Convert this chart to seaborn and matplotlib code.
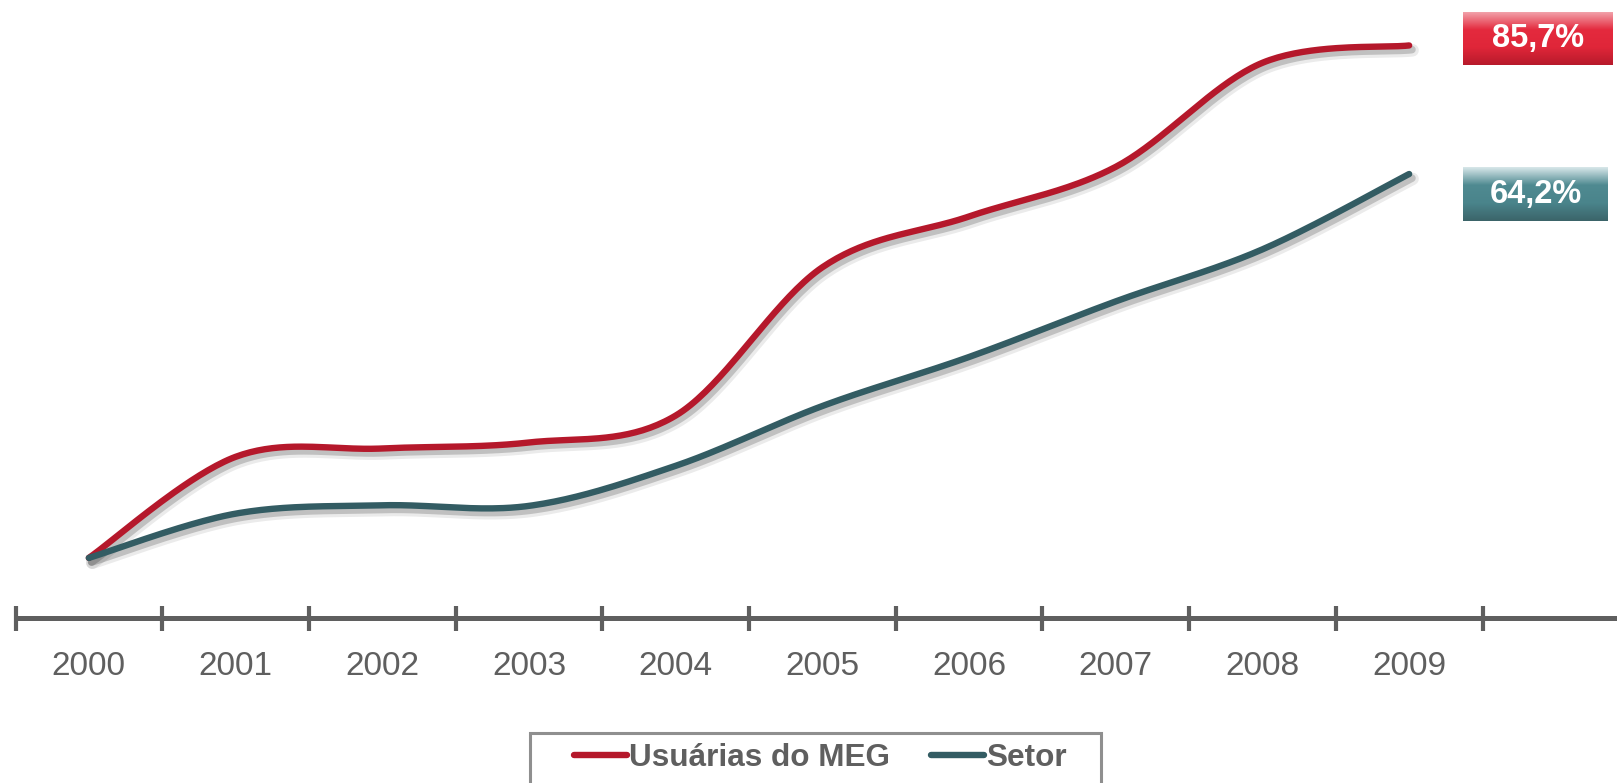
import numpy as np
import pandas as pd
import seaborn as sns
import matplotlib.pyplot as plt
import matplotlib.patheffects as pe
from matplotlib.colors import LinearSegmentedColormap
from matplotlib.patches import Rectangle

# Data (accumulated growth, %)
anos = ['2000', '2001', '2002', '2003', '2004', '2005', '2006', '2007', '2008', '2009']
meg = [0.0, 16.9, 18.3, 19.3, 23.8, 48.6, 57.1, 65.4, 82.8, 85.7]
setor = [0.0, 7.4, 8.8, 8.7, 15.4, 25.4, 33.6, 42.9, 51.6, 64.2]

cor_meg = '#b5182b'
cor_setor = '#335c63'
cinza = '#5f5f5f'


def suaviza(y, n=40):
    # Catmull-Rom through the yearly points (like Excel's smoothed line)
    y = np.asarray(y, dtype=float)
    x = np.arange(len(y), dtype=float)
    px = np.concatenate([[x[0]], x, [x[-1]]])
    py = np.concatenate([[y[0]], y, [y[-1]]])
    xs, ys = [], []
    t = np.linspace(0, 1, n, endpoint=False)
    f = lambda a0, a1, a2, a3: 0.5 * ((2 * a1) + (-a0 + a2) * t
                                      + (2 * a0 - 5 * a1 + 4 * a2 - a3) * t ** 2
                                      + (-a0 + 3 * a1 - 3 * a2 + a3) * t ** 3)
    for i in range(1, len(px) - 2):
        xs.append(f(*px[i - 1:i + 3]))
        ys.append(f(*py[i - 1:i + 3]))
    xs.append([x[-1]])
    ys.append([y[-1]])
    return np.concatenate(xs), np.concatenate(ys)


plt.rcParams['font.family'] = ['Liberation Sans', 'DejaVu Sans']

fig = plt.figure(figsize=(16.17, 7.83), dpi=100)
ax = fig.add_axes([15.5 / 1617, 1 - 617.7 / 783, 1 - 15.5 / 1617, 617.7 / 783])

sombra = [pe.SimpleLineShadow(offset=(2.5, -3.5), shadow_color='black', alpha=0.08, rho=1, linewidth=9),
          pe.SimpleLineShadow(offset=(2, -3), shadow_color='black', alpha=0.18, rho=1, linewidth=5.5),
          pe.Normal()]

for nome, vals, cor in [('Usuárias do MEG', meg, cor_meg), ('Setor', setor, cor_setor)]:
    xs, ys = suaviza(vals)
    df = pd.DataFrame({'x': xs, 'y': ys})
    sns.lineplot(data=df, x='x', y='y', ax=ax, color=cor, lw=4.6, sort=False,
                 label=nome, solid_capstyle='round', path_effects=sombra)

ax.set_xlim(-0.5, -0.5 + (1617 - 15.5) / 146.7)
ax.set_ylim(-10.0, 93.3)
for s in ['top', 'right', 'left']:
    ax.spines[s].set_visible(False)
ax.spines['bottom'].set_color(cinza)
ax.spines['bottom'].set_linewidth(3.6)
ax.set_yticks([])
ax.set_xticks(np.arange(-0.5, 10.0, 1.0))
ax.set_xticklabels([])
ax.set_xticks(np.arange(len(anos)), minor=True)
ax.set_xticklabels(anos, minor=True)
ax.tick_params(axis='x', which='major', direction='inout', length=18, width=3, color=cinza)
ax.tick_params(axis='x', which='minor', length=0, pad=24, labelsize=24, labelcolor=cinza)
ax.set_xlabel('')
ax.set_ylabel('')
ax.get_legend().remove()


def caixa(y0, y1, x0, x1, cores, texto):
    bx = fig.add_axes([x0 / 1617, 1 - y1 / 783, (x1 - x0) / 1617, (y1 - y0) / 783])
    cm = LinearSegmentedColormap.from_list('g', cores)
    grad = np.linspace(0, 1, 256).reshape(-1, 1)
    bx.imshow(grad, aspect='auto', cmap=cm, extent=[0, 1, 0, 1], origin='upper')
    bx.text(0.5, 0.5, texto, ha='center', va='center', color='white',
            fontsize=23.5, fontweight='bold', transform=bx.transAxes)
    bx.set_axis_off()


caixa(12, 65, 1463, 1613, ['#f2a2aa', '#e42a3e', '#e02639', '#b71a2b'], '85,7%')
caixa(167, 221, 1463, 1608, ['#d9e8ea', '#4f8a91', '#4a848b', '#3b6469'], '64,2%')

# legend box (cut by the bottom edge, as in the original)
fig.patches.append(Rectangle((530 / 1617, -0.05), (1101 - 530) / 1617, 0.05 + 1 - 733 / 783,
                             transform=fig.transFigure, fill=False, edgecolor='#8f8f8f',
                             linewidth=2.2, zorder=0))

h, l = ax.get_legend_handles_labels()
leg = fig.legend(h, l, loc='center', bbox_to_anchor=(820 / 1617, 1 - 758 / 783),
                 ncol=2, frameon=False, borderaxespad=0,
                 handlelength=1.7, handletextpad=0.05, columnspacing=1.3,
                 borderpad=0.0, prop={'size': 22.7, 'weight': 'bold'})
for t in leg.get_texts():
    t.set_color(cinza)
for ln in leg.get_lines():
    ln.set_path_effects([])
    ln.set_linewidth(4.6)

fig.savefig('out.png', dpi=100)
